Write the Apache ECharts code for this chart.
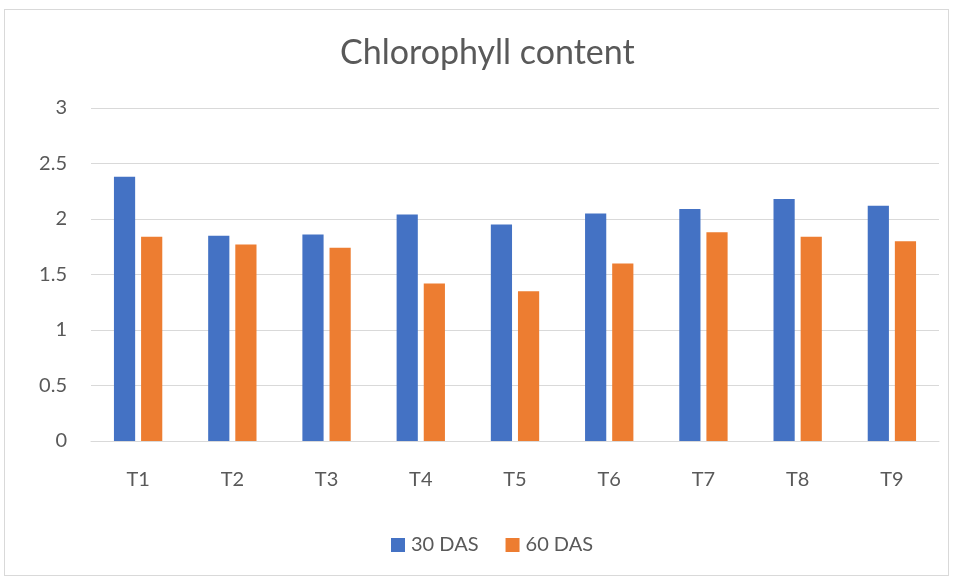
<!DOCTYPE html>
<html>
<head>
<meta charset="utf-8">
<script src="https://cdn.jsdelivr.net/npm/echarts@6/dist/echarts.min.js"></script>
<style>
  html, body { margin: 0; padding: 0; background: #fff; }
  #frame {
    position: absolute; left: 4px; top: 9px; width: 945px; height: 567px;
    border: 1px solid #d9d9d9; box-sizing: border-box;
  }
  #chart { position: absolute; left: 0; top: 0; width: 958px; height: 579px; }
</style>
</head>
<body>
<div id="frame"></div>
<div id="chart"></div>
<script>
const categories = ['T1', 'T2', 'T3', 'T4', 'T5', 'T6', 'T7', 'T8', 'T9']
const das30 = [2.38, 1.85, 1.86, 2.04, 1.95, 2.05, 2.09, 2.18, 2.12]
const das60 = [1.84, 1.77, 1.74, 1.42, 1.35, 1.60, 1.88, 1.84, 1.80]
const yTicks = [0, 0.5, 1, 1.5, 2, 2.5, 3]

const textColor = '#595959'
const font = 'Lato, "Open Sans", sans-serif'

const chart = echarts.init(document.getElementById('chart'))

chart.setOption({
  backgroundColor: 'transparent',
  animation: false,
  title: {
    text: 'Chlorophyll content',
    left: 335,
    top: 31,
    textStyle: {
      color: textColor,
      fontFamily: font,
      fontSize: 34,
      fontWeight: 'normal'
    }
  },
  legend: {
    bottom: 19,
    left: 386,
    itemWidth: 14,
    itemHeight: 14,
    itemGap: 27,
    icon: 'rect',
    textStyle: {
      color: textColor,
      fontFamily: font,
      fontSize: 20,
      padding: [0, 0, 0, 1]
    },
    data: ['30 DAS', '60 DAS']
  },
  grid: {
    left: 91,
    right: 19,
    top: 108,
    bottom: 138
  },
  xAxis: {
    type: 'category',
    data: categories,
    axisLine: { lineStyle: { color: '#d9d9d9', width: 1 } },
    axisTick: { show: false },
    axisLabel: {
      color: textColor,
      fontFamily: font,
      fontSize: 20,
      margin: 29
    }
  },
  yAxis: {
    type: 'value',
    min: yTicks[0],
    max: yTicks[yTicks.length - 1],
    interval: 0.5,
    axisLine: { show: false },
    axisTick: { show: false },
    splitLine: { lineStyle: { color: '#d9d9d9', width: 1 } },
    axisLabel: {
      color: textColor,
      fontFamily: font,
      fontSize: 20,
      margin: 24
    }
  },
  series: [
    {
      name: '30 DAS',
      type: 'bar',
      data: das30,
      barWidth: '22.5%',
      barGap: '28%',
      itemStyle: { color: '#4472c4' }
    },
    {
      name: '60 DAS',
      type: 'bar',
      data: das60,
      barWidth: '22.5%',
      itemStyle: { color: '#ed7d31' }
    }
  ]
})

window.addEventListener('resize', () => chart.resize())
</script>
</body>
</html>
